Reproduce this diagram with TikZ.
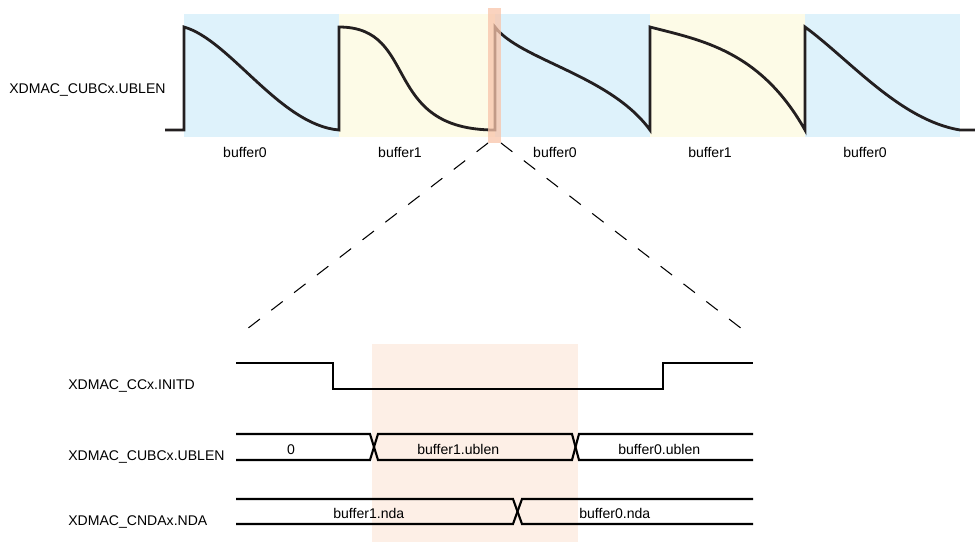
\documentclass[tikz,border=0pt]{standalone}
\usepackage{fontspec}
\setmainfont{Liberation Sans}
\definecolor{bufblue}{RGB}{222,242,251}
\definecolor{bufyellow}{RGB}{253,251,231}
\definecolor{zoomstrip}{RGB}{248,196,170}
\definecolor{zoomarea}{RGB}{253,239,230}
\definecolor{inkgray}{RGB}{35,31,32}
\begin{document}
\begin{tikzpicture}[x=0.02cm,y=-0.02cm,
    every node/.style={font=\fontsize{8}{9.6}\selectfont, inner sep=0pt},
    wave/.style={line width=1.6pt, draw=inkgray},
    sig/.style={line width=1.2pt},
    zoomline/.style={line width=0.6pt, dash pattern=on 8.2pt off 8.2pt}]
    \useasboundingbox (0,0) rectangle (975,542);
    % buffers behind the UBLEN curve
    \foreach \xa/\xb/\c in {184/339/bufblue, 339/495/bufyellow, 495/650/bufblue, 650/805/bufyellow, 805/960/bufblue}
        \fill[\c] (\xa,14) rectangle (\xb,137);
    \foreach \xm/\name [count=\i] in {245/buffer0, 400/buffer1, 555/buffer0, 710/buffer1, 865/buffer0}
        \node[anchor=base] (buf\i) at (\xm,157) {\name};
    \node[anchor=base west] (ublen) at (9,93) {XDMAC\_CUBCx.UBLEN};
    \draw[wave] (165,130) -- (184,130) -- (184,27)
        .. controls (230,40) and (280,125) .. (339,130) -- (339,27)
        .. controls (420,27) and (380,130) .. (495,130) -- (495,27)
        .. controls (520,60) and (610,75) .. (650,130) -- (650,27)
        .. controls (700,40) and (760,50) .. (805,130) -- (805,27)
        .. controls (850,60) and (900,120) .. (960,130) -- (975,130);
    \fill[zoomstrip, opacity=0.75] (488,8) rectangle (501,143);
    % zoom
    \coordinate (stripL) at (488,143);
    \coordinate (stripR) at (501,143);
    \coordinate (zoomL) at (247,329);
    \coordinate (zoomR) at (742,329);
    \draw[zoomline] (stripL) -- (zoomL);
    \draw[zoomline] (stripR) -- (zoomR);
    \fill[zoomarea] (372,344) rectangle (578,542);
    % signals
    \node[anchor=base west] (initd) at (68,389) {XDMAC\_CCx.INITD};
    \node[anchor=base west] (ublen2) at (68,460.5) {XDMAC\_CUBCx.UBLEN};
    \node[anchor=base west] (nda) at (68,525.5) {XDMAC\_CNDAx.NDA};
    \draw[sig] (236,363) -- (333,363) -- (333,389) -- (663,389) -- (663,363) -- (753,363);
    \draw[sig] (236,434) -- (370,434) -- (378,460) -- (572,460) -- (579,434) -- (753,434);
    \draw[sig] (236,460) -- (370,460) -- (378,434) -- (572,434) -- (579,460) -- (753,460);
    \draw[sig] (236,499) -- (513,499) -- (522,524) -- (753,524);
    \draw[sig] (236,524) -- (513,524) -- (522,499) -- (753,499);
    \node[anchor=base] (v0) at (291,454) {0};
    \node[anchor=base west] (v1) at (417,454) {buffer1.ublen};
    \node[anchor=base west] (v2) at (618,454) {buffer0.ublen};
    \node[anchor=base west] (v3) at (333,518) {buffer1.nda};
    \node[anchor=base west] (v4) at (579,518) {buffer0.nda};
\end{tikzpicture}
\end{document}
